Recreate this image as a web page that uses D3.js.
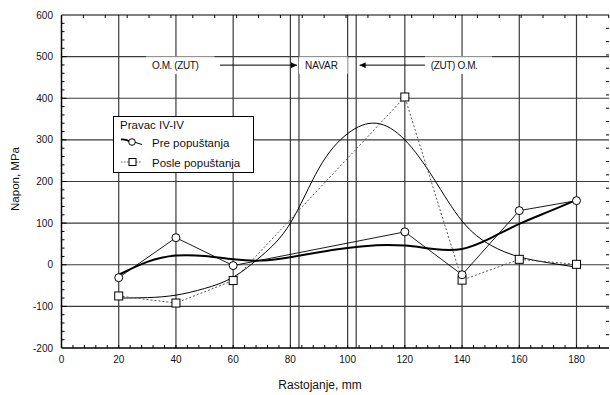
<!DOCTYPE html>
<html lang="sr">
<head>
<meta charset="UTF-8">
<script src="https://d3js.org/d3.v7.min.js"></script>
<style>
    body { margin: 0; background: #fff; }
    svg { display: block; font-family: "Liberation Sans", Arial, sans-serif; }
</style>
</head>
<body>
<svg id="chart" width="610" height="395"></svg>
<script>
// measured points
const distances = [20, 40, 60, 120, 140, 160, 180];
const preValues = [-31, 65, -2, 79, -24, 130, 154];
const posleValues = [-75, -92, -38, 403, -37, 13, 1];

// smooth fitted curves, every 10 mm
const curveX = [20, 30, 40, 50, 60, 70, 80, 90, 100, 110, 120, 130, 140, 150, 160, 170, 180];
const preCurve = [-24, 7, 22, 21, 13, 10, 18, 30, 40, 47, 46, 38, 38, 64, 98, 127, 156];
const posleCurve = [-80, -79, -73, -57, -30, 22, 100, 232, 315, 340, 300, 208, 105, 47, 19, 5, -6];

const xTicks = [0, 20, 40, 60, 80, 100, 120, 140, 160, 180];
const yTicks = [-200, -100, 0, 100, 200, 300, 400, 500, 600];
const vGrid = [20, 40, 60, 80, 83, 100, 103, 120, 140, 160, 180];
const hGrid = [-100, 0, 100, 200, 300, 400, 500];

const svg = d3.select("#chart");
const x = d3.scaleLinear().domain([0, 180]).range([61.5, 576.5]);
const y = d3.scaleLinear().domain([-200, 600]).range([348, 15]);
const xMax = x.invert(609);

// grid
const grid = svg.append("g").attr("stroke", "#3a3a3a").attr("stroke-width", 1.2);
grid.selectAll(".v").data(vGrid).join("line")
    .attr("x1", d => x(d)).attr("x2", d => x(d))
    .attr("y1", y(600)).attr("y2", y(-200));
grid.selectAll(".h").data(hGrid).join("line")
    .attr("x1", x(0)).attr("x2", x(xMax))
    .attr("y1", d => y(d)).attr("y2", d => y(d));

// annotation boxes over the 500 line
const boxes = [
    {from: 29.5, to: 53.5, text: "O.M. (ZUT)"},
    {from: 83, to: 100, text: "NAVAR"},
    {from: 127, to: 150.5, text: "(ZUT) O.M."}
];
const ann = svg.append("g");
boxes.forEach(b => {
    ann.append("rect")
        .attr("x", x(b.from)).attr("y", y(500) + 0.6)
        .attr("width", x(b.to) - x(b.from)).attr("height", y(460) - y(500))
        .attr("fill", "#fff");
    ann.append("line")
        .attr("x1", x(b.from)).attr("x2", x(b.to))
        .attr("y1", y(500)).attr("y2", y(500))
        .attr("stroke", "#bbb").attr("stroke-width", 0.8);
    ann.append("text")
        .attr("x", x(b.from) + 6).attr("y", y(500) + 12.5)
        .attr("font-size", 10).attr("fill", "#111")
        .attr("textLength", b.text === "NAVAR" ? 33 : 47)
        .text(b.text);
});

svg.append("defs").append("marker")
    .attr("id", "head").attr("viewBox", "0 0 10 10")
    .attr("refX", 10).attr("refY", 5)
    .attr("markerWidth", 8).attr("markerHeight", 6)
    .attr("markerUnits", "userSpaceOnUse")
    .attr("orient", "auto")
    .append("path").attr("d", "M0,0L10,5L0,10z").attr("fill", "#000");

const arrows = [[55.4, 82.3], [127, 104.2]];
arrows.forEach(a => {
    ann.append("line")
        .attr("x1", x(a[0])).attr("x2", x(a[1]))
        .attr("y1", y(500) + 8.5).attr("y2", y(500) + 8.5)
        .attr("stroke", "#000").attr("stroke-width", 1)
        .attr("marker-end", "url(#head)");
});

// axes frame
const frame = svg.append("g").attr("stroke", "#000");
frame.append("line").attr("x1", x(0)).attr("x2", x(0)).attr("y1", y(600)).attr("y2", y(-200)).attr("stroke-width", 1.5);
frame.append("line").attr("x1", x(0)).attr("x2", x(xMax)).attr("y1", y(-200)).attr("y2", y(-200)).attr("stroke-width", 1.5);
frame.append("line").attr("x1", x(0)).attr("x2", x(xMax)).attr("y1", y(600)).attr("y2", y(600)).attr("stroke-width", 1.2);

// minor ticks
const xMinor = d3.range(4, xMax, 4);
frame.selectAll(".xm").data(xMinor).join("line")
    .attr("x1", d => x(d)).attr("x2", d => x(d))
    .attr("y1", y(-200)).attr("y2", y(-200) - 3).attr("stroke-width", 1);
const xTop = d3.range(7.65, xMax, 7.65);
frame.selectAll(".xt").data(xTop).join("line")
    .attr("x1", d => x(d)).attr("x2", d => x(d))
    .attr("y1", y(600)).attr("y2", y(600) + 3).attr("stroke-width", 1);
const yMinor = d3.range(-180, 600, 20);
frame.selectAll(".ym").data(yMinor).join("line")
    .attr("x1", x(0)).attr("x2", d => x(0) + (d % 100 === 0 ? 5 : 3))
    .attr("y1", d => y(d)).attr("y2", d => y(d)).attr("stroke-width", 1);
const yRight = d3.range(568, -200, -32);
frame.selectAll(".yr").data(yRight).join("line")
    .attr("x1", 609).attr("x2", 606)
    .attr("y1", d => y(d)).attr("y2", d => y(d)).attr("stroke-width", 1);

// tick labels
svg.append("g").selectAll("text").data(yTicks).join("text")
    .attr("x", 53).attr("y", d => y(d)).attr("dy", "0.35em")
    .attr("text-anchor", "end").attr("font-size", 10).attr("fill", "#111")
    .text(d => d);
svg.append("g").selectAll("text").data(xTicks).join("text")
    .attr("x", d => x(d)).attr("y", 363)
    .attr("text-anchor", "middle").attr("font-size", 10).attr("fill", "#111")
    .text(d => d);

svg.append("text").attr("x", 320).attr("y", 389).attr("text-anchor", "middle")
    .attr("font-size", 12).attr("fill", "#111").text("Rastojanje, mm");
svg.append("text").attr("transform", "translate(19,179) rotate(-90)")
    .attr("text-anchor", "middle").attr("font-size", 11.5).attr("fill", "#111").text("Napon, MPa");

// curves
const smooth = d3.line().x(d => x(d[0])).y(d => y(d[1])).curve(d3.curveNatural);
const straight = d3.line().x(d => x(d[0])).y(d => y(d[1]));
const plot = svg.append("g").attr("fill", "none");

plot.append("path").attr("d", smooth(d3.zip(curveX, posleCurve)))
    .attr("stroke", "#000").attr("stroke-width", 1);
plot.append("path").attr("d", smooth(d3.zip(curveX, preCurve)))
    .attr("stroke", "#000").attr("stroke-width", 2);
plot.append("path").attr("d", straight(d3.zip(distances, posleValues)))
    .attr("stroke", "#555").attr("stroke-width", 1).attr("stroke-dasharray", "2,2");
plot.append("path").attr("d", straight(d3.zip(distances, preValues)))
    .attr("stroke", "#000").attr("stroke-width", 0.9);

plot.selectAll(".sq").data(d3.zip(distances, posleValues)).join("rect")
    .attr("x", d => x(d[0]) - 4).attr("y", d => y(d[1]) - 4)
    .attr("width", 8).attr("height", 8)
    .attr("fill", "#fff").attr("stroke", "#000").attr("stroke-width", 1);
plot.selectAll(".ci").data(d3.zip(distances, preValues)).join("circle")
    .attr("cx", d => x(d[0])).attr("cy", d => y(d[1])).attr("r", 4)
    .attr("fill", "#fff").attr("stroke", "#000").attr("stroke-width", 1);

// legend
const lg = svg.append("g");
lg.append("rect").attr("x", 113.5).attr("y", 116.5).attr("width", 140).attr("height", 56)
    .attr("fill", "#fff").attr("stroke", "#000").attr("stroke-width", 1);
lg.append("text").attr("x", 120).attr("y", 128.5).attr("font-size", 11.5).attr("fill", "#111").text("Pravac IV-IV");
lg.append("path").attr("d", "M121,139.5Q125,139 130,141.5").attr("fill", "none").attr("stroke", "#000").attr("stroke-width", 1.8);
lg.append("line").attr("x1", 134).attr("x2", 142).attr("y1", 142).attr("y2", 144.5).attr("stroke", "#000");
lg.append("circle").attr("cx", 132).attr("cy", 142).attr("r", 3.3).attr("fill", "#fff").attr("stroke", "#000");
lg.append("text").attr("x", 152).attr("y", 146.5).attr("font-size", 11.5).attr("fill", "#111").text("Pre popuštanja");
lg.append("line").attr("x1", 121).attr("x2", 142).attr("y1", 162).attr("y2", 162)
    .attr("stroke", "#555").attr("stroke-dasharray", "1.5,1.5");
lg.append("rect").attr("x", 129).attr("y", 158.5).attr("width", 7).attr("height", 7)
    .attr("fill", "#fff").attr("stroke", "#000");
lg.append("text").attr("x", 152).attr("y", 166.5).attr("font-size", 11.5).attr("fill", "#111").text("Posle popuštanja");
</script>
</body>
</html>
